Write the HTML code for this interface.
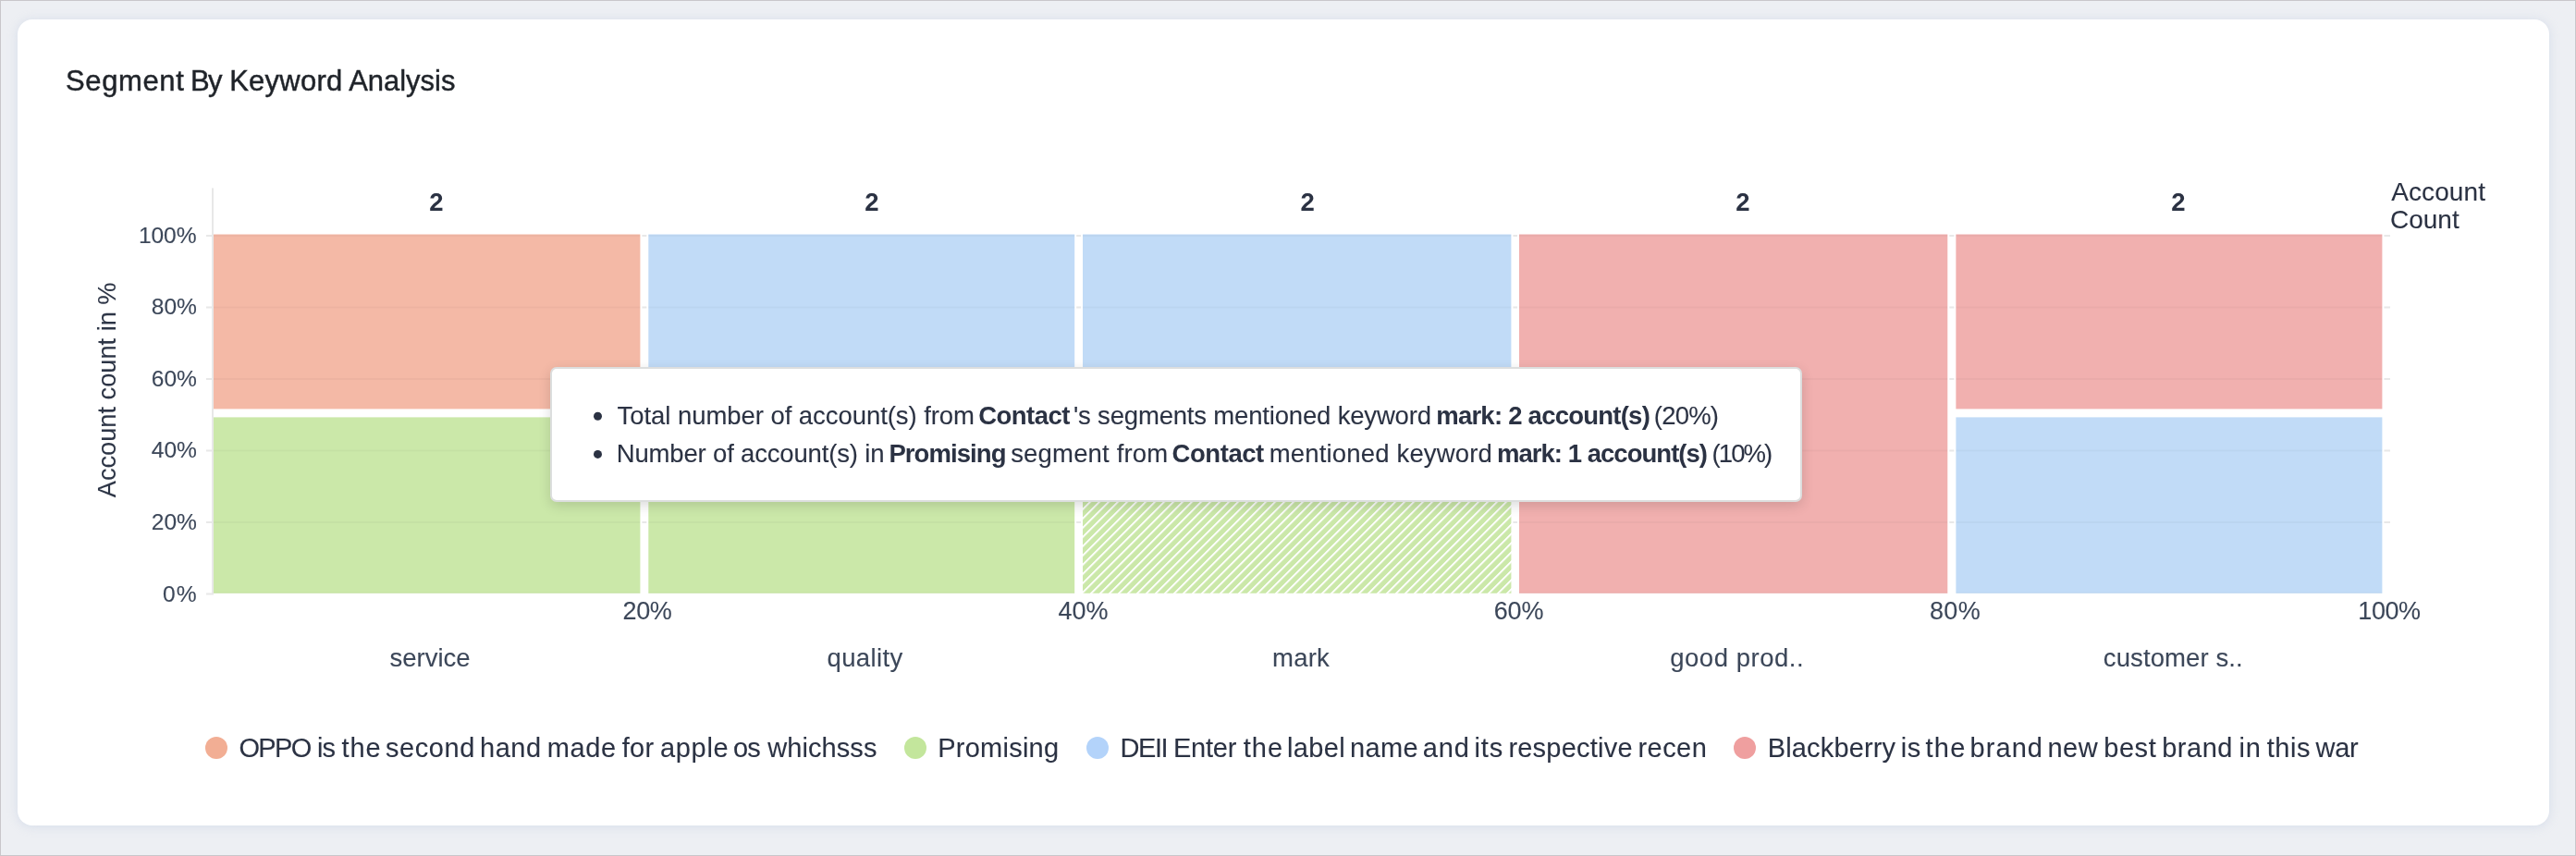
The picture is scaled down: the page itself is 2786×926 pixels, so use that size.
<!DOCTYPE html>
<html>
<head>
<meta charset="utf-8">
<style>
html,body{margin:0;padding:0;}
body{width:2786px;height:926px;position:relative;overflow:hidden;background:#edeff3;font-family:"Liberation Sans",sans-serif;}
.frame{position:absolute;left:0;top:0;width:2784px;height:924px;border:1px solid #c9c7ca;}
.card{position:absolute;left:19px;top:21px;width:2738px;height:872px;background:#fff;border-radius:16px;box-shadow:0 1px 11px rgba(180,195,222,0.42);}
svg{position:absolute;left:0;top:0;will-change:transform;}
text{font-family:"Liberation Sans",sans-serif;}
.sk text{stroke:currentColor;}
.tt{position:absolute;left:595px;top:397px;width:1354px;height:146px;box-sizing:border-box;background:#fff;border:2px solid #dcdede;border-radius:7px;box-shadow:0 4px 14px rgba(0,0,0,0.14);}
</style>
</head>
<body>
<div class="frame"></div>
<div class="card"></div>
<svg width="2786" height="926" viewBox="0 0 2786 926">
<defs>
<pattern id="hatch" patternUnits="userSpaceOnUse" x="0" y="0" width="7.0711" height="7.0711" patternTransform="translate(0.6,0) rotate(45)">
<rect width="7.0711" height="7.0711" fill="#cbe8a9"/>
<rect x="0" y="0" width="1.95" height="7.0711" fill="#ffffff"/>
</pattern>
</defs>
<g>
<rect x="223.00" y="254.00" width="6.00" height="2.00" fill="#e8e8e8"/>
<rect x="694.40" y="254.00" width="4.90" height="2.00" fill="#e8e8e8"/>
<rect x="1164.20" y="254.00" width="4.80" height="2.00" fill="#e8e8e8"/>
<rect x="1636.40" y="254.00" width="4.60" height="2.00" fill="#e8e8e8"/>
<rect x="2108.30" y="254.00" width="5.10" height="2.00" fill="#e8e8e8"/>
<rect x="2578.40" y="254.00" width="6.60" height="2.00" fill="#e8e8e8"/>
<rect x="223.00" y="331.50" width="6.00" height="2.00" fill="#e8e8e8"/>
<rect x="694.40" y="331.50" width="4.90" height="2.00" fill="#e8e8e8"/>
<rect x="1164.20" y="331.50" width="4.80" height="2.00" fill="#e8e8e8"/>
<rect x="1636.40" y="331.50" width="4.60" height="2.00" fill="#e8e8e8"/>
<rect x="2108.30" y="331.50" width="5.10" height="2.00" fill="#e8e8e8"/>
<rect x="2578.40" y="331.50" width="6.60" height="2.00" fill="#e8e8e8"/>
<rect x="223.00" y="409.00" width="6.00" height="2.00" fill="#e8e8e8"/>
<rect x="694.40" y="409.00" width="4.90" height="2.00" fill="#e8e8e8"/>
<rect x="1164.20" y="409.00" width="4.80" height="2.00" fill="#e8e8e8"/>
<rect x="1636.40" y="409.00" width="4.60" height="2.00" fill="#e8e8e8"/>
<rect x="2108.30" y="409.00" width="5.10" height="2.00" fill="#e8e8e8"/>
<rect x="2578.40" y="409.00" width="6.60" height="2.00" fill="#e8e8e8"/>
<rect x="223.00" y="486.50" width="6.00" height="2.00" fill="#e8e8e8"/>
<rect x="694.40" y="486.50" width="4.90" height="2.00" fill="#e8e8e8"/>
<rect x="1164.20" y="486.50" width="4.80" height="2.00" fill="#e8e8e8"/>
<rect x="1636.40" y="486.50" width="4.60" height="2.00" fill="#e8e8e8"/>
<rect x="2108.30" y="486.50" width="5.10" height="2.00" fill="#e8e8e8"/>
<rect x="2578.40" y="486.50" width="6.60" height="2.00" fill="#e8e8e8"/>
<rect x="223.00" y="564.00" width="6.00" height="2.00" fill="#e8e8e8"/>
<rect x="694.40" y="564.00" width="4.90" height="2.00" fill="#e8e8e8"/>
<rect x="1164.20" y="564.00" width="4.80" height="2.00" fill="#e8e8e8"/>
<rect x="1636.40" y="564.00" width="4.60" height="2.00" fill="#e8e8e8"/>
<rect x="2108.30" y="564.00" width="5.10" height="2.00" fill="#e8e8e8"/>
<rect x="2578.40" y="564.00" width="6.60" height="2.00" fill="#e8e8e8"/>
<rect x="223.00" y="641.50" width="8.00" height="2.00" fill="#e8e8e8"/>
<rect x="229.00" y="203.40" width="2.00" height="438.60" fill="#e8e8e8"/>
</g>
<g opacity="1">
<rect x="231.00" y="253.50" width="461.40" height="188.90" fill="#f4b9a6"/>
<rect x="231.00" y="451.40" width="461.40" height="190.40" fill="#cbe8a9"/>
<rect x="701.30" y="253.50" width="460.90" height="188.90" fill="#c1dbf7"/>
<rect x="701.30" y="451.40" width="460.90" height="190.40" fill="#cbe8a9"/>
<rect x="1171.00" y="253.50" width="463.40" height="188.90" fill="#c1dbf7"/>
<rect x="1171.00" y="451.40" width="463.40" height="190.40" fill="url(#hatch)"/>
<rect x="1643.00" y="253.50" width="463.30" height="388.30" fill="#f1b0af"/>
<rect x="2115.40" y="253.50" width="461.00" height="188.90" fill="#f1b0af"/>
<rect x="2115.40" y="451.40" width="461.00" height="190.40" fill="#c1dbf7"/>
</g>
<g opacity="0.022">
<rect x="231.00" y="254.00" width="461.40" height="2.00" fill="#000"/>
<rect x="701.30" y="254.00" width="460.90" height="2.00" fill="#000"/>
<rect x="1171.00" y="254.00" width="463.40" height="2.00" fill="#000"/>
<rect x="1643.00" y="254.00" width="463.30" height="2.00" fill="#000"/>
<rect x="2115.40" y="254.00" width="461.00" height="2.00" fill="#000"/>
<rect x="231.00" y="331.50" width="461.40" height="2.00" fill="#000"/>
<rect x="701.30" y="331.50" width="460.90" height="2.00" fill="#000"/>
<rect x="1171.00" y="331.50" width="463.40" height="2.00" fill="#000"/>
<rect x="1643.00" y="331.50" width="463.30" height="2.00" fill="#000"/>
<rect x="2115.40" y="331.50" width="461.00" height="2.00" fill="#000"/>
<rect x="231.00" y="409.00" width="461.40" height="2.00" fill="#000"/>
<rect x="701.30" y="409.00" width="460.90" height="2.00" fill="#000"/>
<rect x="1171.00" y="409.00" width="463.40" height="2.00" fill="#000"/>
<rect x="1643.00" y="409.00" width="463.30" height="2.00" fill="#000"/>
<rect x="2115.40" y="409.00" width="461.00" height="2.00" fill="#000"/>
<rect x="231.00" y="486.50" width="461.40" height="2.00" fill="#000"/>
<rect x="701.30" y="486.50" width="460.90" height="2.00" fill="#000"/>
<rect x="1643.00" y="486.50" width="463.30" height="2.00" fill="#000"/>
<rect x="2115.40" y="486.50" width="461.00" height="2.00" fill="#000"/>
<rect x="231.00" y="564.00" width="461.40" height="2.00" fill="#000"/>
<rect x="701.30" y="564.00" width="460.90" height="2.00" fill="#000"/>
<rect x="1643.00" y="564.00" width="463.30" height="2.00" fill="#000"/>
<rect x="2115.40" y="564.00" width="461.00" height="2.00" fill="#000"/>
<rect x="231.00" y="640.70" width="461.40" height="1.10" fill="#000"/>
<rect x="701.30" y="640.70" width="460.90" height="1.10" fill="#000"/>
<rect x="1643.00" y="640.70" width="463.30" height="1.10" fill="#000"/>
<rect x="2115.40" y="640.70" width="461.00" height="1.10" fill="#000"/>
</g>
<g fill="#2b3243">
<text id="title_0" x="71.00" y="97.90" font-size="31" letter-spacing="0.617" fill="#1f2329" stroke="#1f2329" stroke-width="0.45">Segment</text>
<text id="title_1" x="206.00" y="97.90" font-size="31" letter-spacing="-1.700" fill="#1f2329" stroke="#1f2329" stroke-width="0.45">By</text>
<text id="title_2" x="248.20" y="97.90" font-size="31" letter-spacing="0.250" fill="#1f2329" stroke="#1f2329" stroke-width="0.45">Keyword</text>
<text id="title_3" x="377.20" y="97.90" font-size="31" letter-spacing="-0.029" fill="#1f2329" stroke="#1f2329" stroke-width="0.45">Analysis</text>
<text id="y100" x="212.40" y="262.50" font-size="24.6" text-anchor="end" letter-spacing="-0.134" fill="#3c4759" stroke="#3c4759" stroke-width="0.1">100%</text>
<text id="y80" x="213.00" y="340.10" font-size="24.6" text-anchor="end" fill="#3c4759" stroke="#3c4759" stroke-width="0.1">80%</text>
<text id="y60" x="213.00" y="417.70" font-size="24.6" text-anchor="end" fill="#3c4759" stroke="#3c4759" stroke-width="0.1">60%</text>
<text id="y40" x="213.00" y="495.30" font-size="24.6" text-anchor="end" fill="#3c4759" stroke="#3c4759" stroke-width="0.1">40%</text>
<text id="y20" x="213.00" y="572.90" font-size="24.6" text-anchor="end" fill="#3c4759" stroke="#3c4759" stroke-width="0.1">20%</text>
<text id="y0" x="213.60" y="650.50" font-size="24.6" text-anchor="end" letter-spacing="1.000" fill="#3c4759" stroke="#3c4759" stroke-width="0.1">0%</text>
<text id="v1" x="472.00" y="227.90" font-size="27.5" font-weight="bold" text-anchor="middle">2</text>
<text id="v2" x="942.80" y="227.90" font-size="27.5" font-weight="bold" text-anchor="middle">2</text>
<text id="v3" x="1414.20" y="227.90" font-size="27.5" font-weight="bold" text-anchor="middle">2</text>
<text id="v4" x="1885.00" y="227.90" font-size="27.5" font-weight="bold" text-anchor="middle">2</text>
<text id="v5" x="2356.00" y="227.90" font-size="27.5" font-weight="bold" text-anchor="middle">2</text>
<text id="acc" x="2586.20" y="217.10" font-size="28" letter-spacing="0.100" stroke="#2b3243" stroke-width="0.1">Account</text>
<text id="cnt" x="2585.00" y="247.30" font-size="28" stroke="#2b3243" stroke-width="0.1">Count</text>
<text id="x20" x="700.00" y="669.80" font-size="27" text-anchor="middle" letter-spacing="-0.300" fill="#3c4759" stroke="#3c4759" stroke-width="0.1">20%</text>
<text id="x40" x="1171.50" y="669.80" font-size="27" text-anchor="middle" fill="#3c4759" stroke="#3c4759" stroke-width="0.1">40%</text>
<text id="x60" x="1642.50" y="669.80" font-size="27" text-anchor="middle" letter-spacing="-0.100" fill="#3c4759" stroke="#3c4759" stroke-width="0.1">60%</text>
<text id="x80" x="2114.50" y="669.80" font-size="27" text-anchor="middle" letter-spacing="0.300" fill="#3c4759" stroke="#3c4759" stroke-width="0.1">80%</text>
<text id="x100" x="2584.00" y="669.80" font-size="27" text-anchor="middle" letter-spacing="-0.400" fill="#3c4759" stroke="#3c4759" stroke-width="0.1">100%</text>
<text id="c1" x="465.00" y="720.70" font-size="27.5" text-anchor="middle" fill="#3c4759" stroke="#3c4759" stroke-width="0.1">service</text>
<text id="c2" x="935.50" y="720.70" font-size="27.5" text-anchor="middle" letter-spacing="0.367" fill="#3c4759" stroke="#3c4759" stroke-width="0.1">quality</text>
<text id="c3" x="1407.00" y="720.70" font-size="27.5" text-anchor="middle" letter-spacing="0.200" fill="#3c4759" stroke="#3c4759" stroke-width="0.1">mark</text>
<text id="c4" x="1878.70" y="720.70" font-size="27.5" text-anchor="middle" letter-spacing="0.540" fill="#3c4759" stroke="#3c4759" stroke-width="0.1">good prod..</text>
<text id="c5" x="2350.30" y="720.70" font-size="27.5" text-anchor="middle" letter-spacing="0.091" fill="#3c4759" stroke="#3c4759" stroke-width="0.1">customer s..</text>
<text id="l1_0" x="258.40" y="819.00" font-size="29" letter-spacing="-1.667" stroke="#2b3243" stroke-width="0.1">OPPO</text>
<text id="l1_1" x="343.00" y="819.00" font-size="29" letter-spacing="-0.900" stroke="#2b3243" stroke-width="0.1">is</text>
<text id="l1_2" x="369.60" y="819.00" font-size="29" letter-spacing="0.900" stroke="#2b3243" stroke-width="0.1">the</text>
<text id="l1_3" x="417.00" y="819.00" font-size="29" letter-spacing="0.560" stroke="#2b3243" stroke-width="0.1">second</text>
<text id="l1_4" x="519.00" y="819.00" font-size="29" letter-spacing="0.533" stroke="#2b3243" stroke-width="0.1">hand</text>
<text id="l1_5" x="591.80" y="819.00" font-size="29" letter-spacing="0.567" stroke="#2b3243" stroke-width="0.1">made</text>
<text id="l1_6" x="672.80" y="819.00" font-size="29" letter-spacing="0.250" stroke="#2b3243" stroke-width="0.1">for</text>
<text id="l1_7" x="714.00" y="819.00" font-size="29" letter-spacing="0.675" stroke="#2b3243" stroke-width="0.1">apple</text>
<text id="l1_8" x="793.00" y="819.00" font-size="29" letter-spacing="-1.000" stroke="#2b3243" stroke-width="0.1">os</text>
<text id="l1_9" x="830.20" y="819.00" font-size="29" letter-spacing="0.086" stroke="#2b3243" stroke-width="0.1">whichsss</text>
<text id="l2" x="1014.20" y="819.00" font-size="29" letter-spacing="0.250" stroke="#2b3243" stroke-width="0.1">Promising</text>
<text id="l3_0" x="1211.40" y="819.00" font-size="29" letter-spacing="-1.400" stroke="#2b3243" stroke-width="0.1">DEII</text>
<text id="l3_1" x="1269.00" y="819.00" font-size="29" letter-spacing="-0.250" stroke="#2b3243" stroke-width="0.1">Enter</text>
<text id="l3_2" x="1344.80" y="819.00" font-size="29" letter-spacing="1.000" stroke="#2b3243" stroke-width="0.1">the</text>
<text id="l3_3" x="1392.00" y="819.00" font-size="29" letter-spacing="0.325" stroke="#2b3243" stroke-width="0.1">label</text>
<text id="l3_4" x="1460.00" y="819.00" font-size="29" letter-spacing="0.400" stroke="#2b3243" stroke-width="0.1">name</text>
<text id="l3_5" x="1538.80" y="819.00" font-size="29" letter-spacing="0.900" stroke="#2b3243" stroke-width="0.1">and</text>
<text id="l3_6" x="1594.40" y="819.00" font-size="29" letter-spacing="0.950" stroke="#2b3243" stroke-width="0.1">its</text>
<text id="l3_7" x="1631.40" y="819.00" font-size="29" letter-spacing="0.222" stroke="#2b3243" stroke-width="0.1">respective</text>
<text id="l3_8" x="1771.40" y="819.00" font-size="29" letter-spacing="0.475" stroke="#2b3243" stroke-width="0.1">recen</text>
<text id="l4_0" x="1911.80" y="819.00" font-size="29" letter-spacing="0.134" stroke="#2b3243" stroke-width="0.1">Blackberry</text>
<text id="l4_1" x="2055.80" y="819.00" font-size="29" letter-spacing="0.400" stroke="#2b3243" stroke-width="0.1">is</text>
<text id="l4_2" x="2082.60" y="819.00" font-size="29" letter-spacing="1.200" stroke="#2b3243" stroke-width="0.1">the</text>
<text id="l4_3" x="2130.60" y="819.00" font-size="29" letter-spacing="1.050" stroke="#2b3243" stroke-width="0.1">brand</text>
<text id="l4_4" x="2214.60" y="819.00" font-size="29" letter-spacing="0.400" stroke="#2b3243" stroke-width="0.1">new</text>
<text id="l4_5" x="2275.20" y="819.00" font-size="29" letter-spacing="0.567" stroke="#2b3243" stroke-width="0.1">best</text>
<text id="l4_6" x="2338.20" y="819.00" font-size="29" letter-spacing="0.525" stroke="#2b3243" stroke-width="0.1">brand</text>
<text id="l4_7" x="2421.40" y="819.00" font-size="29" letter-spacing="1.000" stroke="#2b3243" stroke-width="0.1">in</text>
<text id="l4_8" x="2451.80" y="819.00" font-size="29" letter-spacing="0.500" stroke="#2b3243" stroke-width="0.1">this</text>
<text id="l4_9" x="2504.60" y="819.00" font-size="29" letter-spacing="-0.300" stroke="#2b3243" stroke-width="0.1">war</text>
<text id="ytitle" x="0.00" y="0.00" font-size="27.2" text-anchor="middle" fill="#2d3546" transform="translate(124.9,421.85) rotate(-90)" stroke="#2d3546" stroke-width="0.1">Account count in %</text>
</g>
<g>
<circle cx="234" cy="809" r="12" fill="#f2ae94"/>
<circle cx="990" cy="809" r="12" fill="#c3e69c"/>
<circle cx="1187" cy="809" r="12" fill="#b3d3fa"/>
<circle cx="1887" cy="809" r="12" fill="#ef9f9f"/>
</g>
</svg>
<div class="tt"></div>
<svg width="2786" height="926" viewBox="0 0 2786 926">
<circle cx="646.5" cy="450.3" r="4.5" fill="#2b3243"/>
<circle cx="646.5" cy="491.4" r="4.5" fill="#2b3243"/>
<g fill="#2b3243">
<text id="t1_0" x="667.60" y="458.80" font-size="27.5" letter-spacing="-0.060" stroke="#2b3243" stroke-width="0.1">Total number of account(s) from</text>
<text id="t1_1" x="1058.20" y="458.80" font-size="27.5" font-weight="bold" letter-spacing="-0.533">Contact</text>
<text id="t1_2" x="1161.00" y="458.80" font-size="27.5" letter-spacing="-0.179" stroke="#2b3243" stroke-width="0.1">'s segments mentioned keyword</text>
<text id="t1_3" x="1553.20" y="458.80" font-size="27.5" font-weight="bold" letter-spacing="-0.759">mark: 2 account(s)</text>
<text id="t1_4" x="1788.80" y="458.80" font-size="27.5" letter-spacing="-0.800" stroke="#2b3243" stroke-width="0.1">(20%)</text>
<text id="t2_0" x="666.80" y="499.90" font-size="27.5" letter-spacing="-0.173" stroke="#2b3243" stroke-width="0.1">Number of account(s) in</text>
<text id="t2_1" x="961.40" y="499.90" font-size="27.5" font-weight="bold" letter-spacing="-0.925">Promising</text>
<text id="t2_2" x="1093.20" y="499.90" font-size="27.5" letter-spacing="0.173" stroke="#2b3243" stroke-width="0.1">segment from</text>
<text id="t2_3" x="1267.60" y="499.90" font-size="27.5" font-weight="bold" letter-spacing="-0.450">Contact</text>
<text id="t2_4" x="1372.80" y="499.90" font-size="27.5" letter-spacing="0.163" stroke="#2b3243" stroke-width="0.1">mentioned keyword</text>
<text id="t2_5" x="1619.00" y="499.90" font-size="27.5" font-weight="bold" letter-spacing="-0.971">mark: 1 account(s)</text>
<text id="t2_6" x="1851.60" y="499.90" font-size="27.5" letter-spacing="-1.925" stroke="#2b3243" stroke-width="0.1">(10%)</text>
</g>
</svg>
</body>
</html>
